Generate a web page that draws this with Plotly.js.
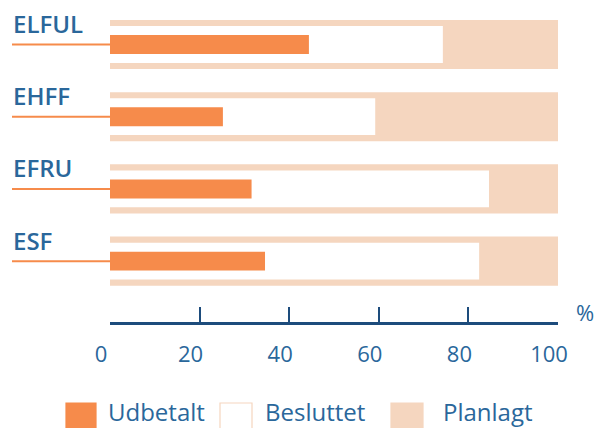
<!DOCTYPE html>
<html>
<head>
<meta charset="utf-8">
<script src="https://cdn.plot.ly/plotly-3.0.1.min.js"></script>
<style>html,body{margin:0;padding:0;background:#fff;}#chart{width:598px;height:428px;}</style>
</head>
<body>
<div id="chart"></div>
<script>
// ---- data ----
var categories = ["ELFUL", "EHFF", "EFRU", "ESF"];
var planlagt   = [100, 100, 100, 100];
var besluttet  = [74.3, 59.2, 84.6, 82.4];
var udbetalt   = [44.4, 25.2, 31.6, 34.6];
var tickValues = [0, 20, 40, 60, 80, 100];
var tickLabels = ["0", "20", "40", "60", "80", "100"];
var seriesNames = ["Udbetalt", "Besluttet", "Planlagt"];

// ---- styles ----
var W = 598, H = 428;
var ML = 110, MR = 40, MT = 8, MB = 106;
var PW = W - ML - MR, PH = H - MT - MB;
var ORANGE = "#F68B4B", PEACH = "#F5D6BF", TEXT = "#2A679B", NAVY = "#1D4C7C";
var FONT = "'Open Sans', 'Noto Sans', sans-serif";
function px(x) { return (x - ML) / PW; }
function py(y) { return (H - MB - y) / PH; }

var traces = [
  {type: "bar", orientation: "h", name: seriesNames[2], y: categories, x: planlagt,
   width: 0.68, marker: {color: PEACH, line: {width: 0}}, showlegend: false, hoverinfo: "skip"},
  {type: "bar", orientation: "h", name: seriesNames[1], y: categories, x: besluttet,
   width: 0.51, marker: {color: "#FFFFFF", line: {width: 0}}, showlegend: false, hoverinfo: "skip"},
  {type: "bar", orientation: "h", name: seriesNames[0], y: categories, x: udbetalt,
   width: 0.263, marker: {color: ORANGE, line: {width: 0}}, showlegend: false, hoverinfo: "skip"}
];

var shapes = [];
var annotations = [];
categories.forEach(function (c, i) {
  shapes.push({type: "line", xref: "paper", yref: "y", x0: px(12), x1: 0, y0: i, y1: i,
               line: {color: ORANGE, width: 2}});
  annotations.push({xref: "paper", yref: "y", x: px(11), y: i, xanchor: "left", yanchor: "middle",
                    yshift: 21, showarrow: false, text: c,
                    font: {family: FONT, size: 24, color: TEXT, weight: 600}});
});

// "%" unit
annotations.push({xref: "paper", yref: "paper", x: px(585), y: py(312), xanchor: "center", yanchor: "middle",
                  showarrow: false, text: "%", font: {family: FONT, size: 22, color: TEXT}});

// manual legend
var legendItems = [
  {name: seriesNames[0], x0: 66, x1: 96, fill: ORANGE, line: ORANGE, tx: 107},
  {name: seriesNames[1], x0: 220, x1: 252, fill: "#FFFFFF", line: PEACH, tx: 264},
  {name: seriesNames[2], x0: 391, x1: 423, fill: PEACH, line: PEACH, tx: 442}
];
legendItems.forEach(function (it) {
  shapes.push({type: "rect", xref: "paper", yref: "paper", x0: px(it.x0), x1: px(it.x1),
               y0: py(434), y1: py(403), fillcolor: it.fill, line: {color: it.line, width: 1.2}});
  annotations.push({xref: "paper", yref: "paper", x: px(it.tx), y: py(411), xanchor: "left", yanchor: "middle",
                    showarrow: false, text: it.name, borderpad: 0,
                    font: {family: FONT, size: 24, color: TEXT}});
});

var layout = {
  width: W, height: H,
  margin: {l: ML, r: MR, t: MT, b: MB, pad: 0},
  paper_bgcolor: "#FFFFFF", plot_bgcolor: "#FFFFFF",
  barmode: "overlay",
  showlegend: false,
  font: {family: FONT, color: TEXT},
  xaxis: {
    range: [0, 100], fixedrange: true,
    tickmode: "array", tickvals: tickValues, ticktext: tickLabels,
    ticks: "inside", ticklen: 15, tickwidth: 2, tickcolor: NAVY,
    showline: true, linecolor: NAVY, linewidth: 2.5,
    showgrid: false, zeroline: false,
    ticklabelshift: -9, ticklabelstandoff: 11,
    tickfont: {family: FONT, size: 22, color: TEXT}
  },
  yaxis: {
    type: "category", range: [3.843, -0.5055], fixedrange: true,
    showticklabels: false, showline: false, showgrid: false, zeroline: false, ticks: ""
  },
  shapes: shapes,
  annotations: annotations
};

Plotly.newPlot("chart", traces, layout, {displayModeBar: false, staticPlot: true});
</script>
</body>
</html>
